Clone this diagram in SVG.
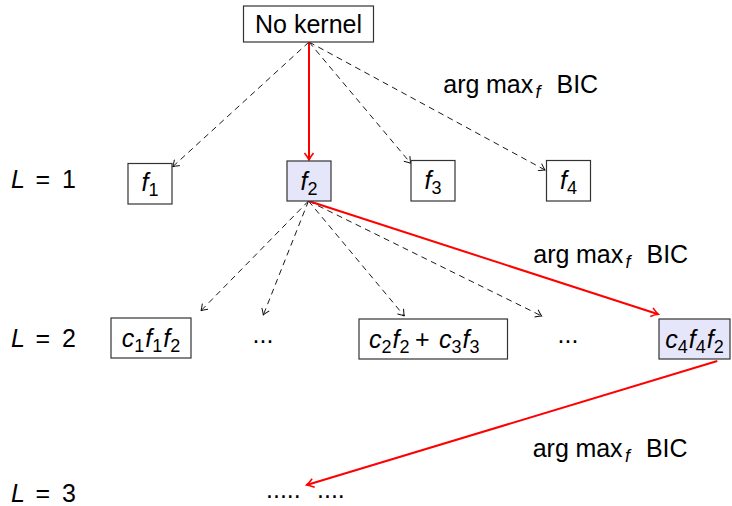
<svg xmlns="http://www.w3.org/2000/svg" width="732" height="506" viewBox="0 0 732 506">
<style>
text{font-family:"Liberation Sans",Arial,sans-serif;font-size:25px;fill:#000}
.m{font-style:italic}
.s{font-size:18px;font-style:normal}
.sf{font-size:18px;font-style:italic}
.box{fill:#fff;stroke:#333;stroke-width:1.2}
.hl{fill:#e6e6fa}
.d{stroke:#000;stroke-width:0.9;stroke-dasharray:6,4.5;fill:none}
.r{stroke:#f00;stroke-width:2;fill:none}
</style>
<defs>
<marker id="ak" markerUnits="userSpaceOnUse" viewBox="-8 -6 10 12" refX="0" refY="0" markerWidth="10" markerHeight="12" orient="auto">
<path d="M-6,-4 Q-2,-1 0,0 Q-2,1 -6,4" fill="none" stroke="#000" stroke-width="0.9"/>
</marker>
<marker id="ar" markerUnits="userSpaceOnUse" viewBox="-9 -7 11 14" refX="0" refY="0" markerWidth="11" markerHeight="14" orient="auto">
<path d="M-7,-4.5 Q-2.5,-1 0,0 Q-2.5,1 -7,4.5" fill="none" stroke="#f00" stroke-width="1.6"/>
</marker>
</defs>
<g id="connectors">
<line class="d" x1="309" y1="42" x2="172.7" y2="166.7" marker-end="url(#ak)"/>
<line class="d" x1="309" y1="42" x2="410.7" y2="163.3" marker-end="url(#ak)"/>
<line class="d" x1="309" y1="42" x2="545" y2="170" marker-end="url(#ak)"/>
<line class="r" x1="309" y1="42" x2="309" y2="160" marker-end="url(#ar)"/>
<line class="d" x1="308.5" y1="201" x2="201" y2="310.7" marker-end="url(#ak)"/>
<line class="d" x1="308.5" y1="201" x2="263.3" y2="315" marker-end="url(#ak)"/>
<line class="d" x1="308.5" y1="201" x2="404.3" y2="316" marker-end="url(#ak)"/>
<line class="d" x1="308.5" y1="201" x2="541.7" y2="316" marker-end="url(#ak)"/>
<line class="r" x1="308.5" y1="201" x2="658.3" y2="314.3" marker-end="url(#ar)"/>
<line class="r" x1="717.3" y1="361" x2="306.7" y2="485" marker-end="url(#ar)"/>
</g>
<g id="labels">
<text x="443.3" y="93"><tspan>arg</tspan><tspan x="486">max</tspan><tspan class="sf" x="535.5" dy="5">f</tspan><tspan x="556.5" dy="-5">BIC</tspan></text>
<text x="533.3" y="263.3"><tspan>arg</tspan><tspan x="576">max</tspan><tspan class="sf" x="625.5" dy="5">f</tspan><tspan x="646.5" dy="-5">BIC</tspan></text>
<text x="532.7" y="456.7"><tspan>arg</tspan><tspan x="575.4">max</tspan><tspan class="sf" x="624.9" dy="5">f</tspan><tspan x="645.9" dy="-5">BIC</tspan></text>
<text x="11" y="188"><tspan class="m">L</tspan><tspan x="35.5">=</tspan><tspan x="62">1</tspan></text>
<text x="11" y="347"><tspan class="m">L</tspan><tspan x="35.5">=</tspan><tspan x="62">2</tspan></text>
<text x="11" y="502"><tspan class="m">L</tspan><tspan x="35.5">=</tspan><tspan x="62">3</tspan></text>
<text x="252.5" y="343">...</text>
<text x="557.5" y="343">...</text>
<text x="266" y="498">.....</text>
<text x="317" y="498">....</text>
</g>
<g id="n0">
<rect class="box" x="243.5" y="6" width="130" height="36"/>
<text x="308.5" y="33" text-anchor="middle">No kernel</text>
</g>
<g id="n1">
<rect class="box" x="128" y="163.5" width="44" height="40.5"/>
<text x="150" y="191" text-anchor="middle"><tspan class="m">f</tspan><tspan class="s" dy="5">1</tspan></text>
</g>
<g id="n2">
<rect class="box hl" x="287" y="161" width="44" height="40"/>
<text x="309" y="189.5" text-anchor="middle"><tspan class="m">f</tspan><tspan class="s" dy="5">2</tspan></text>
</g>
<g id="n3">
<rect class="box" x="411" y="160.5" width="44" height="40.5"/>
<text x="433" y="189" text-anchor="middle"><tspan class="m">f</tspan><tspan class="s" dy="5">3</tspan></text>
</g>
<g id="n4">
<rect class="box" x="546.5" y="160.5" width="44" height="40.5"/>
<text x="568.5" y="189" text-anchor="middle"><tspan class="m">f</tspan><tspan class="s" dy="5">4</tspan></text>
</g>
<g id="n5">
<rect class="box" x="111" y="318" width="80" height="40"/>
<text x="151" y="347" text-anchor="middle"><tspan class="m">c</tspan><tspan class="s" dy="5">1</tspan><tspan class="m" dy="-5" dx="1">f</tspan><tspan class="s" dy="5">1</tspan><tspan class="m" dy="-5" dx="1">f</tspan><tspan class="s" dy="5">2</tspan></text>
</g>
<g id="n6">
<rect class="box" x="359" y="319" width="148.5" height="40"/>
<text x="369" y="347.5"><tspan class="m">c</tspan><tspan class="s" dy="5">2</tspan><tspan class="m" dy="-5" dx="1">f</tspan><tspan class="s" dy="5">2</tspan><tspan dy="-5" x="415">+</tspan><tspan class="m" x="439">c</tspan><tspan class="s" dy="5">3</tspan><tspan class="m" dy="-5" dx="1">f</tspan><tspan class="s" dy="5">3</tspan></text>
</g>
<g id="n7">
<rect class="box hl" x="659" y="319" width="71" height="40"/>
<text x="694.5" y="347.5" text-anchor="middle"><tspan class="m">c</tspan><tspan class="s" dy="5">4</tspan><tspan class="m" dy="-5" dx="1">f</tspan><tspan class="s" dy="5">4</tspan><tspan class="m" dy="-5" dx="1">f</tspan><tspan class="s" dy="5">2</tspan></text>
</g>
</svg>
